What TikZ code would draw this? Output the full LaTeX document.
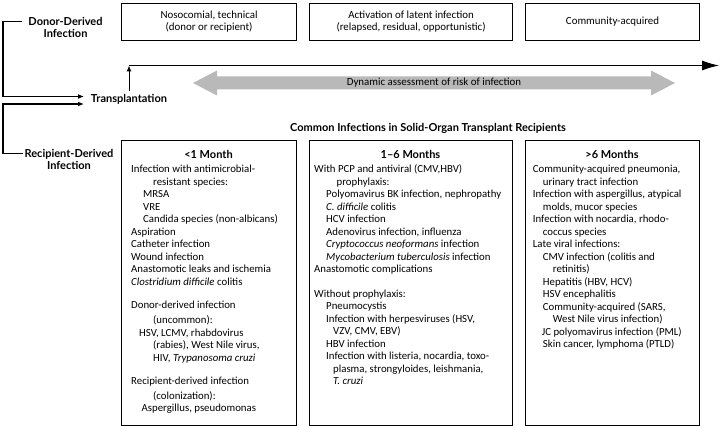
\documentclass[tikz,border=0pt]{standalone}
\usepackage{fontspec}
\setmainfont{Carlito}
\newfontfamily\lblfont{Lato}
\usetikzlibrary{arrows.meta}
\definecolor{arrowgray}{RGB}{185,185,185}
\begin{document}
\begin{tikzpicture}[x=1pt,y=-1pt,
  box/.style={draw, line width=1.1pt, inner sep=0pt, anchor=north west},
  txt/.style={font=\fontsize{10.9}{12}\selectfont, inner sep=0pt, align=center},
  body/.style={font=\fontsize{10.8}{12.5}\selectfont, inner sep=0pt, anchor=north west, align=left},
  lbl/.style={font=\lblfont\bfseries\fontsize{11}{11.6}\selectfont, inner sep=0pt, align=center},
  conn/.style={line width=1.3pt},
  tip/.style={-{Latex[length=6pt,width=5pt]}}
  ]
\useasboundingbox (0,0) rectangle (722,427);

% top boxes
\node[box, minimum width=175pt, minimum height=37pt] (t1) at (121,3) {};
\node[txt] (t1t) at (t1.center) {Nosocomial, technical\\(donor or recipient)};
\node[box, minimum width=203pt, minimum height=37pt] (t2) at (309,3) {};
\node[txt] (t2t) at (t2.center) {Activation of latent infection\\(relapsed, residual, opportunistic)};
\node[box, minimum width=174pt, minimum height=37pt] (t3) at (525,3) {};
\node[txt] (t3t) at (t3.center) {Community-acquired};

% timeline
\coordinate (tl0) at (129,65.5);
\coordinate (tl1) at (719,65.5);
\draw[line width=1pt, -{Latex[length=17pt,width=10pt]}] (tl0) -- (tl1);

% gray double arrow
\fill[arrowgray] (193,83) -- (217,70.5) -- (217,76.5) -- (651,76.5) -- (651,70.5)
  -- (675,83) -- (651,95.5) -- (651,89.5) -- (217,89.5) -- (217,95.5) -- cycle;
\node[txt] (dyn) at (434,83) {Dynamic assessment of risk of infection};

% transplantation
\node[lbl] (tp) at (129,99.5) {Transplantation};
\draw[line width=1pt, -{Latex[length=6pt,width=5pt]}] ([yshift=3.5pt]tp.north) -- (tp.north |- tl0);

% left labels and brackets
\node[lbl] (dd) at (65.5,27.5) {Donor-Derived\\Infection};
\node[lbl] (rd) at (69,159.3) {Recipient-Derived\\Infection};
\coordinate (dtop) at (22,21.7);
\coordinate (rbot) at (23,153.3);
\coordinate (ta1) at (84,96.5);
\coordinate (ta2) at (84,104);
\draw[conn, tip] (dtop) -- ++(-19,0) |- (ta1);
\draw[conn, tip] (rbot) -- ++(-20,0) |- (ta2);

% title
\node[lbl] (title) at (428,128.3) {Common Infections in Solid-Organ Transplant Recipients};

% bottom boxes
\node[box, minimum width=175pt, minimum height=285pt] (bA) at (121,140) {};
\node[box, minimum width=203pt, minimum height=285pt] (bB) at (309,140) {};
\node[box, minimum width=174pt, minimum height=285pt] (bC) at (525,140) {};

\node[lbl] (hA) at (208.5,154) {<1 Month};
\node[lbl] (hB) at (410.5,154) {1–6 Months};
\node[lbl] (hC) at (612,154) {>6 Months};

\node[body] (cA) at (131,163.5) {\rule{0pt}{9pt}Infection with antimicrobial-\\
\hspace*{22pt}resistant species:\\
\hspace*{12pt}MRSA\\
\hspace*{12pt}VRE\\
\hspace*{12pt}Candida species (non-albicans)\\
Aspiration\\
Catheter infection\\
Wound infection\\
Anastomotic leaks and ischemia\\
\textit{Clostridium difficile} colitis\\[10.8pt]
Donor-derived infection\\[2.5pt]
\hspace*{22pt}(uncommon):\\
\hspace*{8pt}HSV, LCMV, rhabdovirus\\
\hspace*{22pt}(rabies), West Nile virus,\\
\hspace*{22pt}HIV, \textit{Trypanosoma cruzi}\\[10.5pt]
Recipient-derived infection\\[2.5pt]
\hspace*{22pt}(colonization):\\
\hspace*{10.5pt}Aspergillus, pseudomonas};

\node[body] (cB) at (314,163.5) {\rule{0pt}{9pt}With PCP and antiviral (CMV,HBV)\\
\hspace*{22.5pt}prophylaxis:\\
\hspace*{12pt}Polyomavirus BK infection, nephropathy\\
\hspace*{12pt}\textit{C. difficile} colitis\\
\hspace*{12pt}HCV infection\\
\hspace*{12pt}Adenovirus infection, influenza\\
\hspace*{12pt}\textit{Cryptococcus neoformans} infection\\
\hspace*{12pt}\textit{Mycobacterium tuberculosis} infection\\
Anastomotic complications\\[11.8pt]
Without prophylaxis:\\
\hspace*{12pt}Pneumocystis\\
\hspace*{12pt}Infection with herpesviruses (HSV,\\
\hspace*{19pt}VZV, CMV, EBV)\\
\hspace*{12pt}HBV infection\\
\hspace*{12pt}Infection with listeria, nocardia, toxo-\\
\hspace*{19pt}plasma, strongyloides, leishmania,\\
\hspace*{19pt}\textit{T. cruzi}};

\node[body] (cC) at (532.7,163.5) {\rule{0pt}{9pt}Community-acquired pneumonia,\\
\hspace*{10pt}urinary tract infection\\
Infection with aspergillus, atypical\\
\hspace*{10pt}molds, mucor species\\
Infection with nocardia, rhodo-\\
\hspace*{10pt}coccus species\\
Late viral infections:\\
\hspace*{10pt}CMV infection (colitis and\\
\hspace*{20pt}retinitis)\\
\hspace*{10pt}Hepatitis (HBV, HCV)\\
\hspace*{10pt}HSV encephalitis\\
\hspace*{10pt}Community-acquired (SARS,\\
\hspace*{20pt}West Nile virus infection)\\
\hspace*{9pt}JC polyomavirus infection (PML)\\
\hspace*{10pt}Skin cancer, lymphoma (PTLD)};
\end{tikzpicture}
\end{document}
